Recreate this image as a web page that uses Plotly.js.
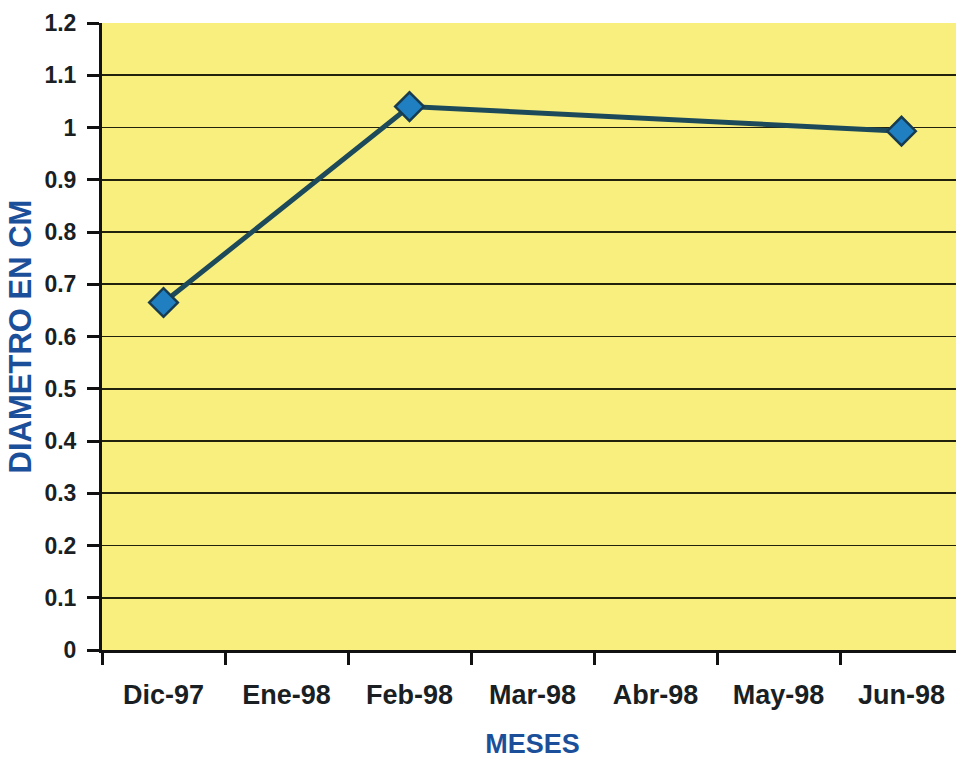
<!DOCTYPE html>
<html>
<head>
<meta charset="utf-8">
<script src="https://cdn.plot.ly/plotly-3.0.1.min.js"></script>
<style>
html,body{margin:0;padding:0;background:#fff;overflow:hidden;width:956px;height:759px;}
#chart{width:970px;height:759px;}
</style>
</head>
<body>
<div id="chart"></div>
<script>
const months = ['Dic-97','Ene-98','Feb-98','Mar-98','Abr-98','May-98','Jun-98'];
const diametro = [0.665, null, 1.04, null, null, null, 0.993];
const yTicks = [0,0.1,0.2,0.3,0.4,0.5,0.6,0.7,0.8,0.9,1,1.1,1.2];
const yTickText = ['0','0.1','0.2','0.3','0.4','0.5','0.6','0.7','0.8','0.9','1','1.1','1.2'];

const trace = {
  x: months,
  y: diametro,
  type: 'scatter',
  mode: 'lines+markers',
  connectgaps: true,
  line: {color: '#1d4a5a', width: 5},
  marker: {symbol: 'diamond', size: 22, color: '#1f7fc1', line: {color: '#173c52', width: 2.5}},
  hoverinfo: 'x+y'
};

const layout = {
  width: 970,
  height: 759,
  margin: {l: 102, r: 7, t: 23, b: 109},
  paper_bgcolor: '#ffffff',
  plot_bgcolor: '#f9ef7e',
  showlegend: false,
  font: {family: 'Liberation Sans, Arial, sans-serif', color: '#1a1a1a'},
  xaxis: {
    type: 'category',
    categoryorder: 'array',
    categoryarray: months,
    range: [-0.5, 6.5],
    tickson: 'boundaries',
    ticks: 'outside',
    ticklen: 12,
    tickwidth: 3,
    tickcolor: '#111',
    showline: true,
    linecolor: '#111',
    linewidth: 3,
    showgrid: false,
    zeroline: false,
    ticklabelstandoff: 19,
    tickfont: {family: 'Liberation Sans, Arial, sans-serif', size: 27, color: '#1a1f24', weight: 'bold'},
    title: {text: '<b>MESES</b>', standoff: 25, font: {family: 'Liberation Sans, Arial, sans-serif', size: 27, color: '#1c4f9a'}},
    automargin: false
  },
  yaxis: {
    range: [0, 1.2],
    tickvals: yTicks,
    ticktext: yTickText,
    ticks: 'outside',
    ticklen: 12,
    tickwidth: 3,
    tickcolor: '#111',
    showline: true,
    linecolor: '#111',
    linewidth: 3,
    showgrid: true,
    gridcolor: '#22220c',
    gridwidth: 1.8,
    zeroline: false,
    ticklabelstandoff: 6,
    tickfont: {family: 'Liberation Sans, Arial, sans-serif', size: 23, color: '#1a1f24', weight: 'bold'},
    title: {text: '<b>DIAMETRO EN CM</b>', standoff: 4, font: {family: 'Liberation Sans, Arial, sans-serif', size: 31, color: '#1c4f9a'}},
    automargin: false
  }
};

Plotly.newPlot('chart', [trace], layout, {displayModeBar: false, staticPlot: true});
</script>
</body>
</html>
